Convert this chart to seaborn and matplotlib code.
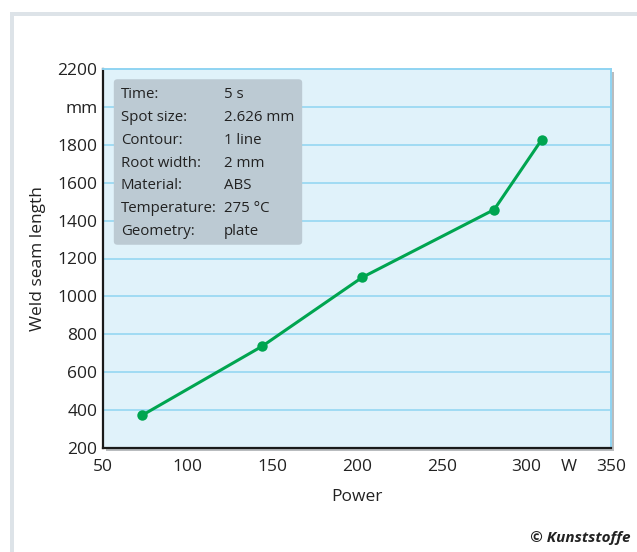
import matplotlib
matplotlib.use("Agg")
import matplotlib.pyplot as plt
import seaborn as sns
import pandas as pd
from matplotlib.patches import Rectangle, FancyBboxPatch

power = [73, 144, 203, 281, 309]
seam_length = [372, 737, 1100, 1458, 1826]

x_ticks = [50, 100, 150, 200, 250, 300, 325, 350]
x_labels = ["50", "100", "150", "200", "250", "300", "W", "350"]
y_ticks = [200, 400, 600, 800, 1000, 1200, 1400, 1600, 1800, 2000, 2200]
y_labels = ["200", "400", "600", "800", "1000", "1200", "1400", "1600", "1800", "mm", "2200"]

info_keys = ["Time:", "Spot size:", "Contour:", "Root width:", "Material:", "Temperature:", "Geometry:"]
info_vals = ["5 s", "2.626 mm", "1 line", "2 mm", "ABS", "275 °C", "plate"]

sns.set_theme(style="white")
plt.rcParams['font.family'] = ['Open Sans', 'DejaVu Sans']

W, H = 637, 552
fig = plt.figure(figsize=(W / 100, H / 100), dpi=100)
fig.patch.set_facecolor("white")

# outer frame (top and left grey band)
fig.patches.append(Rectangle((10 / W, 0), 1, 1 - 12 / H, transform=fig.transFigure,
                             facecolor="#dde3e8", edgecolor="none", zorder=0))
fig.patches.append(Rectangle((14 / W, 0), 1, 1 - 16 / H, transform=fig.transFigure,
                             facecolor="white", edgecolor="none", zorder=0.1))

left, right, bottom, top = 103 / W, 611 / W, 1 - 448 / H, 1 - 69 / H
# drop shadow
fig.patches.append(Rectangle((left + 3 / W, bottom - 3 / H), right - left, top - bottom,
                             transform=fig.transFigure, facecolor="#b9bcbf",
                             edgecolor="none", zorder=0.5))
ax = fig.add_axes([left, bottom, right - left, top - bottom])
ax.set_zorder(1)
ax.set_facecolor("#e0f2fa")

df = pd.DataFrame({"Power": power, "Length": seam_length})
sns.lineplot(data=df, x="Power", y="Length", ax=ax, color="#00a550", linewidth=2.2,
             marker="o", markersize=7.5, markeredgewidth=0, zorder=5)

ax.set_xlim(50, 350)
ax.set_ylim(200, 2200)
for yv in y_ticks[1:-1]:
    ax.axhline(yv, color="#8fd4f2", linewidth=1.1, zorder=1)

ax.set_xticks(x_ticks)
ax.set_xticklabels(x_labels)
ax.set_yticks(y_ticks)
ax.set_yticklabels(y_labels)
ax.tick_params(axis="both", which="major", length=0, labelsize=12.5, colors="#222222")
ax.tick_params(axis="x", pad=8)
ax.tick_params(axis="y", pad=4)
ax.set_xticks([100, 150, 200, 250, 300], minor=True)
ax.tick_params(axis="x", which="minor", direction="in", length=6, width=1.2,
               color="#8fd4f2", bottom=True)

for s in ["left", "bottom"]:
    ax.spines[s].set_color("#1a1a1a")
    ax.spines[s].set_linewidth(1.6)
for s in ["top", "right"]:
    ax.spines[s].set_color("#8fd4f2")
    ax.spines[s].set_linewidth(1.4)

ax.set_xlabel("Power", fontsize=12.5, color="#222222", labelpad=10)
ax.set_ylabel("Weld seam length", fontsize=12.5, color="#222222", labelpad=8)

# info box
bx0, by0, bx1, by1 = 114, 79, 302, 245
box = FancyBboxPatch(((bx0 + 3) / W, 1 - (by1 - 3) / H), (bx1 - bx0 - 6) / W, (by1 - by0 - 6) / H,
                     boxstyle="round,pad=0.005,rounding_size=0.006", transform=fig.transFigure,
                     facecolor="#bccad3", edgecolor="none", zorder=10)
fig.patches.append(box)
for i, (k, v) in enumerate(zip(info_keys, info_vals)):
    yy = 1 - (95 + i * 22.7) / H
    fig.text(121 / W, yy, k, fontsize=10.8, color="#222222", va="center", ha="left", zorder=11)
    fig.text(224 / W, yy, v, fontsize=10.8, color="#222222", va="center", ha="left", zorder=11)

fig.text(630 / W, 1 - 538 / H, "© Kunststoffe", fontsize=11, fontweight="bold",
         fontstyle="italic", color="#222222", ha="right", va="center")

fig.savefig("out.png", dpi=100)
